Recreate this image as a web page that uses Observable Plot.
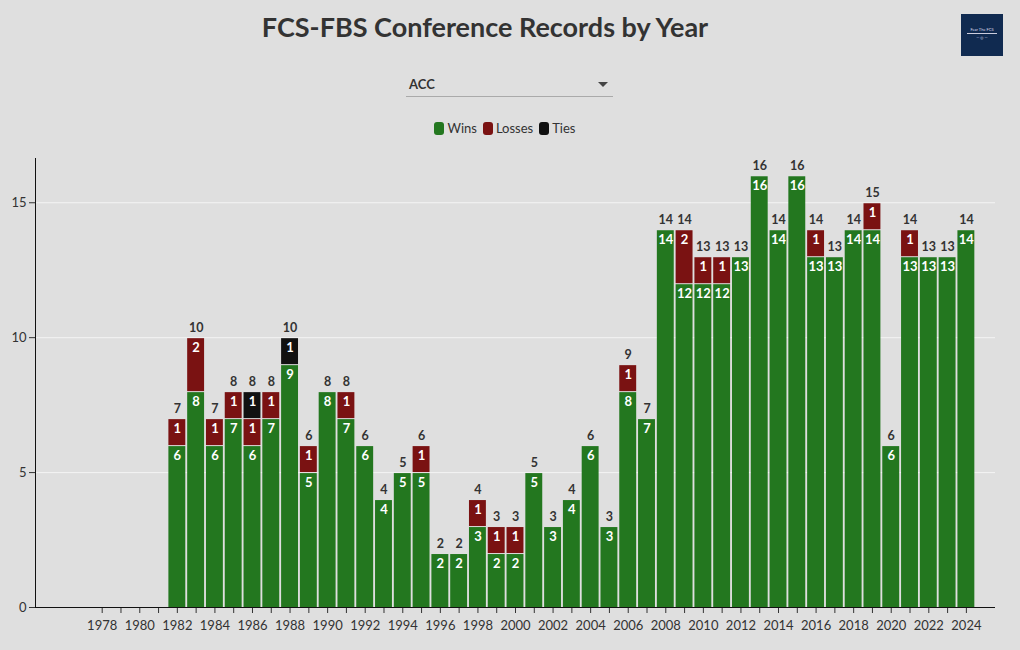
<!DOCTYPE html>
<html>
<head>
<meta charset="utf-8">
<script src="https://cdn.jsdelivr.net/npm/d3@7"></script>
<script src="https://cdn.jsdelivr.net/npm/@observablehq/plot@0.6"></script>
<style>
  html, body { margin: 0; padding: 0; background: #dfdfdf; width: 1020px; height: 650px; overflow: hidden; font-family: Lato, "Noto Sans", sans-serif; color: #333; }
  #title { position: absolute; left: 0; width: 970px; top: 10px; text-align: center; font-size: 27px; font-weight: bold; color: #333; }
  #dropdown { position: absolute; left: 406px; top: 72px; width: 207px; height: 24px; border-bottom: 1px solid #aaa; }
  #dropdown span { position: absolute; left: 3px; top: 4px; font-size: 13px; font-weight: bold; color: #333; }
  #dropdown .arrow { position: absolute; right: 5px; top: 10px; width: 0; height: 0; border-left: 5px solid transparent; border-right: 5px solid transparent; border-top: 5px solid #444; }
  #legend { position: absolute; left: 0; width: 1010px; top: 120px; text-align: center; font-size: 13px; color: #333; }
  #legend .item { display: inline-block; margin: 0 3px; }
  #legend .sw { display: inline-block; width: 10px; height: 13px; border-radius: 3px; vertical-align: -2px; margin-right: 3px; }
  #logo { position: absolute; left: 961px; top: 14px; width: 42px; height: 42px; background: #102a50; color: #dde; font-size: 4px; text-align: center; }
  #chart { position: absolute; left: 0; top: 150px; }
</style>
</head>
<body>
<div id="title">FCS-FBS Conference Records by Year</div>
<div id="dropdown"><span>ACC</span><div class="arrow"></div></div>
<div id="legend"></div>
<div id="logo"><div style="padding-top:13px">Fear The FCS</div><div style="border-top:1px solid #ccd;margin:1px 6px 0 6px;padding-top:1px">— ◎ —</div></div>
<div id="chart"></div>
<script>
const years  = [1982,1983,1984,1985,1986,1987,1988,1989,1990,1991,1992,1993,1994,1995,1996,1997,1998,1999,2000,2001,2002,2003,2004,2005,2006,2007,2008,2009,2010,2011,2012,2013,2014,2015,2016,2017,2018,2019,2020,2021,2022,2023,2024];
const wins   = [6,8,6,7,6,7,9,5,8,7,6,4,5,5,2,2,3,2,2,5,3,4,6,3,8,7,14,12,12,12,13,16,14,16,13,13,14,14,6,13,13,13,14];
const losses = [1,2,1,1,1,1,0,1,0,1,0,0,0,1,0,0,1,1,1,0,0,0,0,0,1,0,0,2,1,1,0,0,0,0,1,0,0,1,0,1,0,0,0];
const ties   = [0,0,0,0,1,0,1,0,0,0,0,0,0,0,0,0,0,0,0,0,0,0,0,0,0,0,0,0,0,0,0,0,0,0,0,0,0,0,0,0,0,0,0];
const seriesNames = ["Wins", "Losses", "Ties"];
const seriesColors = ["#23771f", "#7a1212", "#111111"];
const axisYears = d3.range(1975, 2026);
const tickYears = d3.range(1978, 2025);

const series = [wins, losses, ties];
const rows = [];
years.forEach((y, i) => {
  series.forEach((s, k) => {
    if (s[i] > 0) rows.push({year: y, type: seriesNames[k], value: s[i]});
  });
});
const totals = years.map((y, i) => ({year: y, total: wins[i] + losses[i] + ties[i]}));
const maxTotal = d3.max(totals, d => d.total);

// legend
const leg = document.getElementById("legend");
seriesNames.forEach((n, k) => {
  const it = document.createElement("span");
  it.className = "item";
  it.innerHTML = `<span class="sw" style="background:${seriesColors[k]}"></span>${n}`;
  leg.appendChild(it);
});

const order = seriesNames;
const plot = Plot.plot({
  width: 1020,
  height: 490,
  marginTop: 8,
  marginBottom: 33,
  marginLeft: 35,
  marginRight: 25,
  style: {background: "transparent", fontFamily: "Lato, 'Noto Sans', sans-serif", fontSize: "13px", color: "#333"},
  x: {type: "band", domain: axisYears, paddingInner: 0.1, paddingOuter: 0.1, axis: null},
  y: {domain: [0, maxTotal * 1.04], axis: null},
  color: {domain: seriesNames, range: seriesColors},
  marks: [
    Plot.ruleY([5, 10, 15], {stroke: "#f4f4f4", strokeWidth: 1}),
    Plot.barY(rows, {x: "year", y: "value", fill: "type", z: "type", order, insetTop: 1}),
    Plot.text(rows, Plot.stackY2({x: "year", y: "value", z: "type", text: "value", order, dy: 10, fill: "white", fontWeight: "bold", fontSize: 13})),
    Plot.text(totals, {x: "year", y: "total", text: "total", dy: -10, fill: "#333", fontWeight: "bold", fontSize: 12.5}),
    Plot.axisY([0, 5, 10, 15], {tickSize: 6, tickPadding: 3, label: null, fontSize: 13}),
    Plot.axisX(tickYears, {tickSize: 6, tickPadding: 7, label: null, fontSize: 13, tickFormat: d => d % 2 === 0 ? String(d) : ""}),
    Plot.ruleY([0], {stroke: "#111"})
  ]
});
document.getElementById("chart").appendChild(plot);
// left axis line
const ys = plot.scale("y");
const svg = d3.select(plot);
svg.append("line")
  .attr("x1", 35.5).attr("x2", 35.5)
  .attr("y1", ys.apply(0)).attr("y2", ys.apply(maxTotal * 1.04))
  .attr("stroke", "#111");
</script>
</body>
</html>
